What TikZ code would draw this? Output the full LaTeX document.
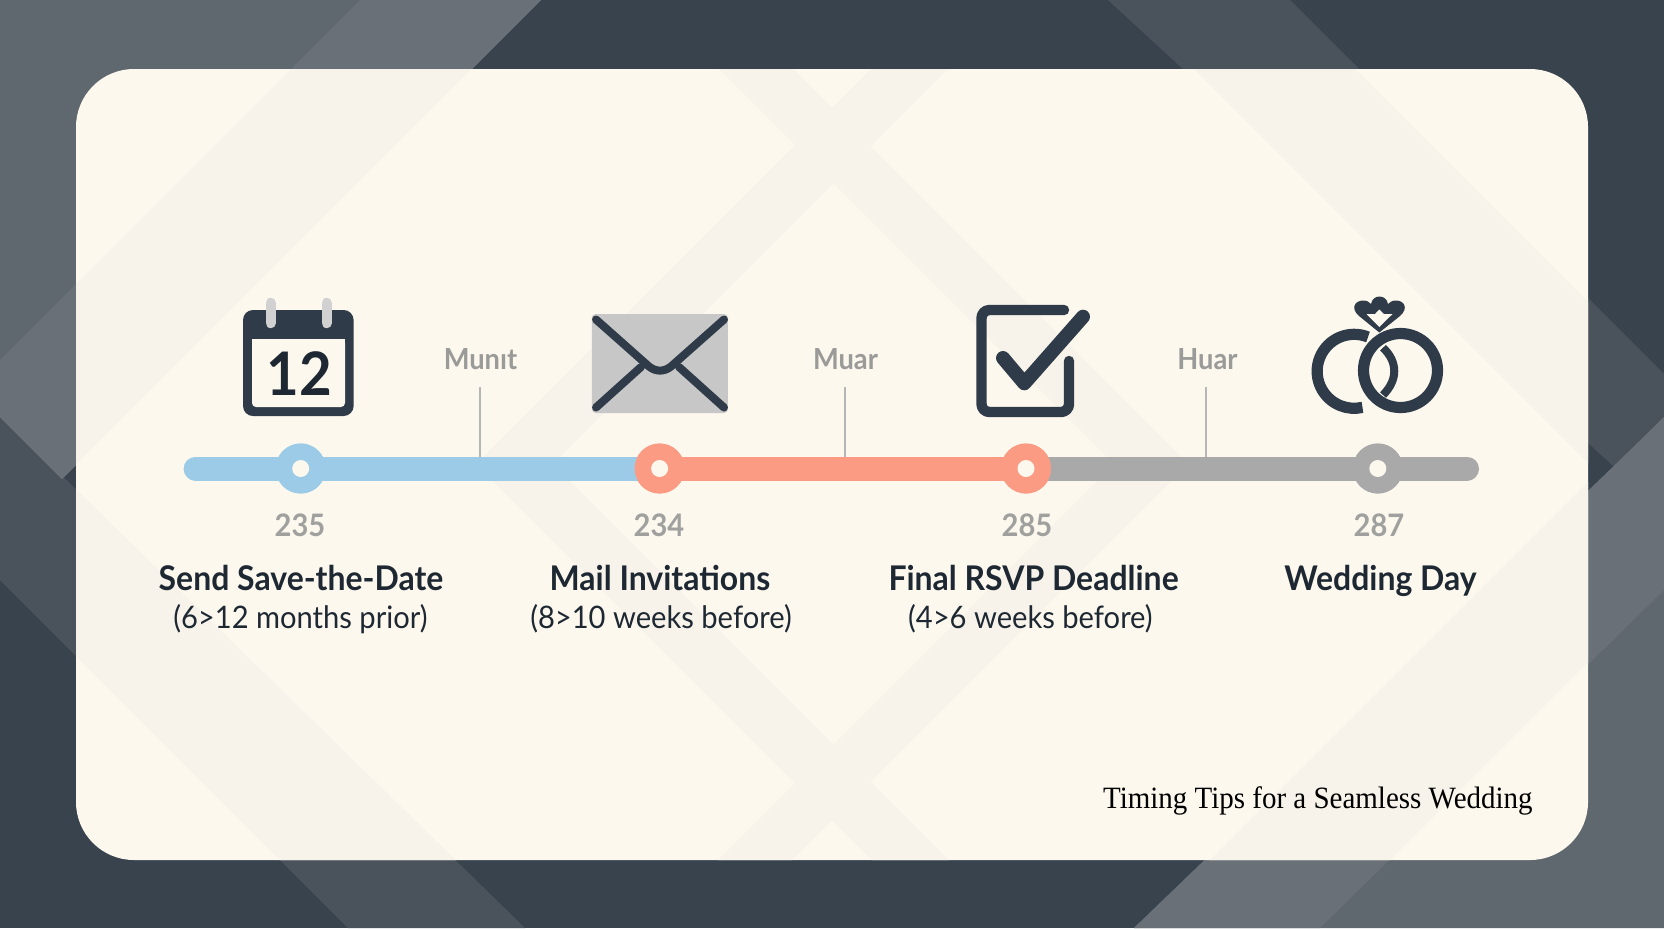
\documentclass[tikz,border=0pt]{standalone}
\usepackage{fontspec}
\setmainfont[FakeStretch=0.94]{Lato}
\newfontfamily\capfont[FakeStretch=0.935]{Liberation Serif}
\usetikzlibrary{positioning,calc}
\definecolor{slatedark}{HTML}{39434E}
\definecolor{slatemid}{HTML}{4A525C}
\definecolor{slatelight}{HTML}{60686F}
\definecolor{slatepale}{HTML}{697078}
\definecolor{cream}{HTML}{FCF8EE}
\definecolor{creamband}{HTML}{F7F3EA}
\definecolor{inkdark}{HTML}{2F3B48}
\definecolor{titleink}{HTML}{1E2833}
\definecolor{skybar}{HTML}{9BCBE6}
\definecolor{coralbar}{HTML}{FC9B84}
\definecolor{greybar}{HTML}{A9A9A9}
\definecolor{ticklabel}{HTML}{9A9A98}
\definecolor{numlabel}{HTML}{A0A09E}
\tikzset{
  barline/.style={line width=12pt,line cap=round},
  stopdot/.style={circle,minimum size=25pt,inner sep=0pt,fill=#1},
  stophole/.style={circle,minimum size=8.5pt,inner sep=0pt,fill=cream},
  ticktext/.style={text=ticklabel,anchor=base,inner sep=0pt,font=\fontsize{14.5}{16}\selectfont\bfseries},
  numtext/.style={text=numlabel,anchor=base,inner sep=0pt,font=\fontsize{15.5}{17}\selectfont\bfseries},
  headtext/.style={text=titleink,anchor=base,inner sep=0pt,font=\fontsize{17}{20}\selectfont\bfseries},
  subtext/.style={text=titleink,anchor=base,inner sep=0pt,font=\fontsize{15.5}{18}\selectfont},
  ticker/.style={color=greybar!85!white,line width=1pt},
  iconline/.style={draw=inkdark,line cap=round,line join=round},
}
\begin{document}
\begin{tikzpicture}[x=0.5pt,y=-0.5pt]
\useasboundingbox (0,0) rectangle (1664,928);
% backdrop
\fill[slatedark] (0,0) rectangle (1664,928);
\fill[slatemid] (1108,0) -- (1290,0) -- (1664,374) -- (1664,513) -- cycle;
\fill[slatemid] (0,415) -- (525,928) -- (348,928) -- (0,580) -- cycle;
\fill[slatelight] (0,0) -- (541,0) -- (62,479) -- (0,417) -- cycle;
\fill[slatepale] (360,0) -- (541,0) -- (62,479) -- (0,417) -- (0,360) -- cycle;
\fill[slatelight] (1664,928) -- (1134,928) -- (1617,463) -- (1664,417) -- cycle;
\fill[slatepale] (1134,928) -- (1320,928) -- (1664,590) -- (1664,417) -- (1617,463) -- cycle;
% card
\fill[cream,rounded corners=29pt] (76,69) rectangle (1588,860);
\begin{scope}
\clip[rounded corners=29pt] (76,69) rectangle (1588,860);
\fill[creamband] (360,0) -- (540,0) -- (0,540) -- (0,360) -- cycle;
\fill[creamband] (1125,0) -- (1286,0) -- (1664,378) -- (1664,539) -- cycle;
\fill[creamband] (0,415) -- (525,928) -- (348,928) -- (0,580) -- cycle;
\fill[creamband] (2070,0) -- (2250,0) -- (1322,928) -- (1142,928) -- cycle;
% centre chevrons
\fill[creamband] (650,0) -- (724,0) -- (1188,464) -- (1114,464) -- cycle;
\fill[creamband] (940,0) -- (1017,0) -- (553,464) -- (476,464) -- cycle;
\fill[creamband] (650,928) -- (724,928) -- (1188,464) -- (1114,464) -- cycle;
\fill[creamband] (940,928) -- (1017,928) -- (553,464) -- (476,464) -- cycle;
\end{scope}
% calendar
\fill[inkdark,rounded corners=5pt] (243,310) rectangle (353.6,416);
\fill[cream,rounded corners=2pt] (252,339) rectangle (345,407);
\fill[cream] (252,339) rectangle (345,350);
\draw[line width=5.2pt,line cap=round,color=black!18] (270.7,303) -- (270.7,323);
\draw[line width=5.2pt,line cap=round,color=black!18] (326.7,303) -- (326.7,323);
\node[text=titleink,font=\fontsize{30}{32}\selectfont\bfseries] (cal) at (299,374) {12};
% envelope
\fill[black!22,rounded corners=2pt] (591.8,314) rectangle (727.9,413);
\draw[iconline,line width=4pt] (596,319.5) -- (649,366.5) .. controls (656,372) and (664,372) .. (671,366.5) -- (724,319.5);
\draw[iconline,line width=4pt] (596,407.5) -- (641,367);
\draw[iconline,line width=4pt] (724,407.5) -- (679,367);
% check box
\draw[iconline,line width=5.2pt,rounded corners=4pt] (1064,310) -- (981.5,310) -- (981.5,412) -- (1069,412) -- (1069,361);
\draw[iconline,line width=7pt] (1003,358) -- (1024.3,383.3) -- (1083,316.7);
% rings
\draw[iconline,line width=5.6pt,line cap=butt] (1368,337) arc[start angle=-68,end angle=-283,radius=37];
\draw[iconline,line width=5.6pt] (1400.5,370.5) circle[radius=37];
\draw[iconline,line width=4pt,line cap=butt] (1383,347.7) .. controls (1398,362) and (1398,380) .. (1383,395);
\fill[inkdark] (1379.3,332.5) -- (1359,316) .. controls (1350,308) and (1355,300.5) .. (1363.3,300.5) .. controls (1367,300.5) and (1369,302) .. (1371,304) .. controls (1372,298.5) and (1376,296.5) .. (1379.3,296.5) .. controls (1383,296.5) and (1387,298.5) .. (1388,304) .. controls (1390,302) and (1392,300.5) .. (1396,300.5) .. controls (1404,300.5) and (1409,308) .. (1400,316) -- cycle;
\fill[cream] (1366.5,314) -- (1375,314) -- (1379.3,309.5) -- (1384,314) -- (1392.5,314) -- (1379.3,327) -- cycle;
% timeline
\coordinate (barstart) at (195.6,468.5);
\coordinate (barend) at (1467,468.5);
\node[stopdot=skybar] (send) at (300.7,468.5) {};
\node[stopdot=coralbar] (mail) at (659.6,468.5) {};
\node[stopdot=coralbar] (rsvp) at (1026,468.5) {};
\node[stopdot=greybar] (day) at (1377.8,468.5) {};
\draw[barline,color=greybar] (rsvp.center) -- (barend);
\draw[barline,color=skybar] (barstart) -- (mail.center);
\draw[line width=12pt,color=coralbar] (mail.center) -- (rsvp.center);
\node[stopdot=skybar] at (send) {};
\node[stopdot=coralbar] at (mail) {};
\node[stopdot=coralbar] at (rsvp) {};
\node[stopdot=greybar] at (day) {};
\node[stophole] at (send) {};
\node[stophole] at (mail) {};
\node[stophole] at (rsvp) {};
\node[stophole] at (day) {};
% ticks
\node[ticktext] (munit) at (480.5,369) {Munıt};
\node[ticktext] (muar) at (845.5,369) {Muar};
\node[ticktext] (huar) at (1207.5,369) {Huar};
\coordinate (munitbar) at (479.6,457);
\coordinate (muarbar) at (845.4,457);
\coordinate (huarbar) at (1206.4,457);
\draw[ticker] (479.6,386.7) -- (munitbar);
\draw[ticker] (845.4,386.7) -- (muarbar);
\draw[ticker] (1206.4,386.7) -- (huarbar);
% labels
\node[numtext] (n1) at (300,536) {235};
\node[numtext] (n2) at (659,536) {234};
\node[numtext] (n3) at (1027,536) {285};
\node[numtext] (n4) at (1379,536) {287};
\node[headtext] (t1) at (301,590) {Send Save-the-Date};
\node[headtext] (t2) at (660,590) {Mail Invitations};
\node[headtext] (t3) at (1033.6,590) {Final RSVP Deadline};
\node[headtext] (t4) at (1380.6,590) {Wedding Day};
\node[subtext] (s1) at (300.5,628) {(6>12 months prior)};
\node[subtext] (s2) at (661,628) {(8>10 weeks before)};
\node[subtext] (s3) at (1030.4,628) {(4>6 weeks before)};
\node[text=black,inner sep=0pt,font=\capfont\fontsize{15.5}{18}\selectfont,anchor=base east] (foot) at (1533,808) {Timing Tips for a Seamless Wedding};
\end{tikzpicture}
\end{document}
